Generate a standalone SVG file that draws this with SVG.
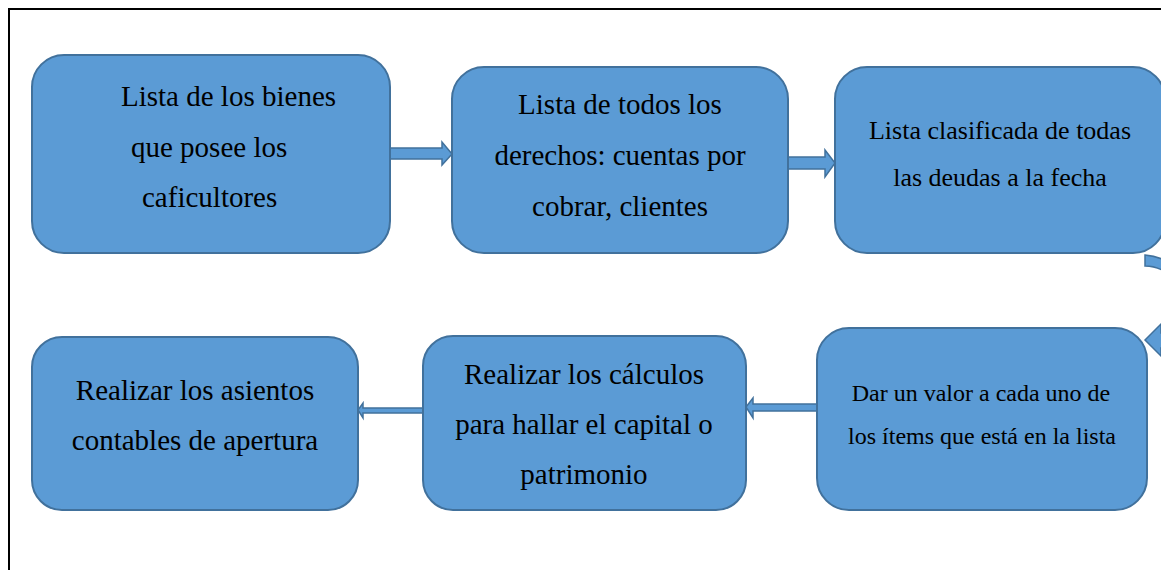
<svg xmlns="http://www.w3.org/2000/svg" width="1161" height="570" viewBox="0 0 1161 570">
<style>
.box{fill:#5B9BD5;stroke:#41719C;stroke-width:2}
.arr{fill:#5B9BD5;stroke:#41719C;stroke-width:1.5;stroke-linejoin:miter}
text{font-family:"Liberation Serif","Times New Roman",serif;fill:#000}
.t26{font-size:29px}
.t21{font-size:26px}
.t20{font-size:24px}
.m{text-anchor:middle}
</style>
<rect width="1161" height="570" fill="#fff"/>
<path d="M9 570 V9 H1161" fill="none" stroke="#000" stroke-width="2"/>
<g id="connectors">
<polygon class="arr" points="390,148 442,148 442,142 452,154 442,165 442,159 390,159"/>
<polygon class="arr" points="788,157 825,157 825,150 835,163 825,177 825,169 788,169"/>
<polygon class="arr" points="817,404 753,404 753,398 746,407 753,418 753,411 817,411"/>
<polygon class="arr" points="423,408 363,408 363,403 358,410 363,418 363,413 423,413"/>
<path class="arr" d="M1145 255 Q1155 256 1162 259 V270 Q1154 266 1145 266 Z"/>
<polygon class="arr" points="1145,340 1161,324 1161,333 1163,333 1163,348 1161,348 1161,356"/>
</g>
<g id="n1">
<rect class="box" x="32" y="55" width="358" height="198" rx="32"/>
<text class="t26" x="121" y="106">Lista de los bienes</text>
<text class="t26" x="131" y="157">que posee los</text>
<text class="t26" x="142" y="207">caficultores</text>
</g>
<g id="n2">
<rect class="box" x="452" y="67" width="336" height="186" rx="32"/>
<text class="t26 m" x="620" y="114">Lista de todos los</text>
<text class="t26 m" x="620" y="165">derechos: cuentas por</text>
<text class="t26 m" x="620" y="216">cobrar, clientes</text>
</g>
<g id="n3">
<rect class="box" x="835" y="67" width="330" height="186" rx="32"/>
<text class="t21 m" x="1000" y="139">Lista clasificada de todas</text>
<text class="t21 m" x="1000" y="186">las deudas a la fecha</text>
</g>
<g id="n4">
<rect class="box" x="817" y="328" width="330" height="182" rx="32"/>
<text class="t20 m" x="981" y="401">Dar un valor a cada uno de</text>
<text class="t20 m" x="982" y="444">los ítems que está en la lista</text>
</g>
<g id="n5">
<rect class="box" x="423" y="336" width="323" height="174" rx="30"/>
<text class="t26 m" x="584" y="384">Realizar los cálculos</text>
<text class="t26 m" x="584" y="434">para hallar el capital o</text>
<text class="t26 m" x="584" y="484">patrimonio</text>
</g>
<g id="n6">
<rect class="box" x="32" y="337" width="326" height="173" rx="30"/>
<text class="t26 m" x="195" y="400">Realizar los asientos</text>
<text class="t26 m" x="195" y="450">contables de apertura</text>
</g>
</svg>
